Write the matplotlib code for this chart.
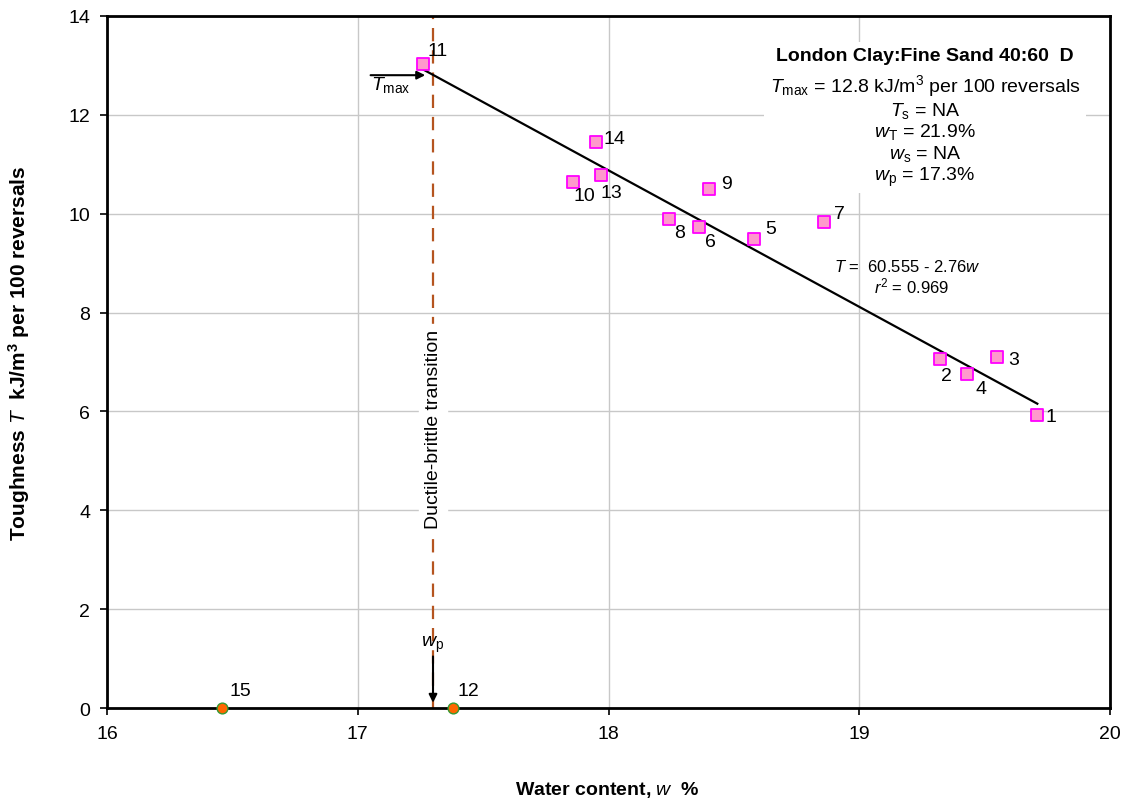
import numpy as np
import matplotlib.pyplot as plt

plt.rcParams['font.family'] = ['Liberation Sans', 'DejaVu Sans']
plt.rcParams['mathtext.fontset'] = 'custom'
plt.rcParams['mathtext.rm'] = 'Liberation Sans'
plt.rcParams['mathtext.it'] = 'Liberation Sans:italic'
plt.rcParams['mathtext.bf'] = 'Liberation Sans:bold'

# test points (water content %, toughness)
pt_labels = ['1', '2', '3', '4', '5', '6', '7', '8', '9', '10', '11', '13', '14']
w_vals = [19.71, 19.32, 19.55, 19.43, 18.58, 18.36, 18.86, 18.24, 18.40, 17.86, 17.26, 17.97, 17.95]
t_vals = [5.93, 7.06, 7.10, 6.76, 9.49, 9.73, 9.83, 9.89, 10.50, 10.64, 13.03, 10.78, 11.45]
# label offsets in pixels (dx, dy up)
lab_off = [(14, -2), (7, -17), (16, -2), (14, -15), (17, 10), (12, -15), (15, 9),
           (11, -13), (18, 5), (11, -14), (15, 13), (10, -17), (18, 3)]

zero_labels = ['15', '12']
zero_w = [16.46, 17.38]
zero_t = [0, 0]
zero_off = [(18, 18), (15, 18)]

a_coef, b_coef = 60.555, 2.76
w_p = 17.3
t_max = 12.8

fig = plt.figure(figsize=(11.35, 8.03), dpi=100)
ax = fig.add_axes([0.0943, 0.117, 0.8837, 0.862])

ax.set_xlim(16, 20)
ax.set_ylim(0, 14)
ax.set_xticks([16, 17, 18, 19, 20])
ax.set_yticks(np.arange(0, 15, 2))
ax.grid(True, color='#c8c8c8', linewidth=1)
ax.set_axisbelow(True)
for s in ax.spines.values():
    s.set_linewidth(2)
ax.tick_params(labelsize=14, direction='out', length=5, width=1.2, pad=7)

# fit line
wl = np.array([min(w_vals), max(w_vals)])
ax.plot(wl, a_coef - b_coef * wl, color='black', linewidth=1.6, zorder=3)

# ductile-brittle line
ax.axvline(w_p, color='#b5541f', linestyle=(0, (6, 4)), linewidth=1.6, zorder=2)
ax.text(w_p, 5.65, 'Ductile-brittle transition', rotation=90, ha='center', va='center',
        fontsize=14, backgroundcolor='white', zorder=4)

ax.scatter(w_vals, t_vals, marker='s', s=70, facecolor='#ff99cc', edgecolor='#ff00ff',
           linewidth=1.3, zorder=5)
ax.scatter(zero_w, zero_t, marker='o', s=60, facecolor='#ff6600', edgecolor='#339933',
           linewidth=1, zorder=6, clip_on=False)

for lab, x, y, (dx, dy) in zip(pt_labels, w_vals, t_vals, lab_off):
    ax.annotate(lab, (x, y), xytext=(dx * 0.72, dy * 0.72), textcoords='offset points',
                ha='center', va='center', fontsize=14, zorder=6)
for lab, x, y, (dx, dy) in zip(zero_labels, zero_w, zero_t, zero_off):
    ax.annotate(lab, (x, y), xytext=(dx * 0.72, dy * 0.72), textcoords='offset points',
                ha='center', va='center', fontsize=14)

# Tmax arrow
ax.annotate('', xy=(17.28, t_max), xytext=(17.04, t_max),
            arrowprops=dict(arrowstyle='-|>', color='black', lw=1.5, mutation_scale=12))
ax.text(17.13, t_max - 0.18, r'$\mathit{T}_{\mathrm{max}}$', ha='center', va='center',
        fontsize=14)

# wp arrow
ax.annotate('', xy=(w_p, 0.05), xytext=(w_p, 1.1),
            arrowprops=dict(arrowstyle='-|>', color='black', lw=1.5, mutation_scale=12))
ax.text(w_p, 1.3, r'$\mathit{w}_{\mathrm{p}}$', ha='center', va='center', fontsize=14)

# info box
info = (r'$\mathit{T}_{\mathrm{max}}$ = 12.8 kJ/m$^3$ per 100 reversals' + '\n'
        r'$\mathit{T}_{\mathrm{s}}$ = NA' + '\n'
        r'$\mathit{w}_{\mathrm{T}}$ = 21.9%' + '\n'
        r'$\mathit{w}_{\mathrm{s}}$ = NA' + '\n'
        r'$\mathit{w}_{\mathrm{p}}$ = 17.3%')
ax.text(19.262, 11.69, info, ha='center', va='center', fontsize=14, linespacing=1.1,
        zorder=4, bbox=dict(facecolor='white', edgecolor='none', pad=4))
ax.text(19.262, 13.19, 'London Clay:Fine Sand 40:60  D', ha='center', va='center',
        fontsize=14, fontweight='bold', zorder=5,
        bbox=dict(facecolor='white', edgecolor='none', pad=4))

ax.text(18.9, 8.95, r'$\mathit{T}$ =  60.555 - 2.76$\mathit{w}$', ha='left', va='center',
        fontsize=12, zorder=4)
ax.text(19.06, 8.55, r'$\mathit{r}^2$ = 0.969', ha='left', va='center', fontsize=12, zorder=4)

fig.text(0.535, 0.016, r'Water content, $\mathbf{\mathit{w}}$  %', ha='center', va='center',
         fontsize=14, fontweight='bold')
fig.text(0.017, 0.56, r'Toughness $\mathbf{\mathit{T}}$  kJ/m$^\mathbf{3}$ per 100 reversals',
         rotation=90, ha='center', va='center', fontsize=15, fontweight='bold')

fig.savefig('out.png', dpi=100)
